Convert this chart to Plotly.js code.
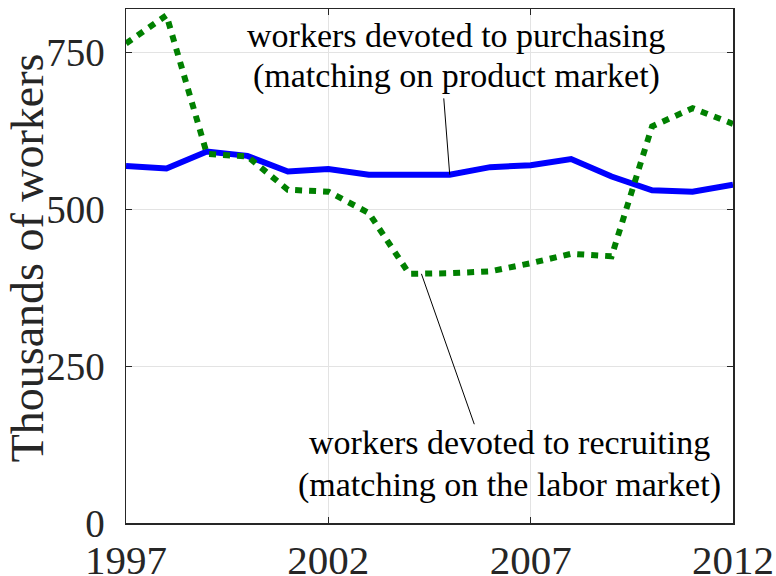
<!DOCTYPE html>
<html><head><meta charset="utf-8">
<script src="https://cdn.plot.ly/plotly-3.0.1.min.js"></script>
<style>html,body{margin:0;padding:0;background:#fff}#chart{width:776px;height:576px}</style>
</head><body><div id="chart"></div>
<script>
const years = [1997,1998,1999,2000,2001,2002,2003,2004,2005,2006,2007,2008,2009,2010,2011,2012];
const purchasing = [569,565,592,585,560,564,555,554,555,567,570,580,552,530,528,539];
const recruiting = [764,809,588,584,531,528,494,397,398,401,414,429,425,632,661,636];
const xTicks = [1997,2002,2007,2012];
const yTicks = [0,250,500,750];
const purchasingLabel = ["workers devoted to purchasing","(matching on product market)"];
const recruitingLabel = ["workers devoted to recruiting","(matching on the labor market)"];
const yTitle = "Thousands of workers";

const font = '"Liberation Serif", serif';
const traces = [
  {x: years, y: purchasing, mode: "lines", line: {color: "#0000ff", width: 6}, hoverinfo: "skip"},
  {x: years, y: recruiting, mode: "lines", line: {color: "#008000", width: 6, dash: "7px,7px"}, hoverinfo: "skip"}
];
const txt = (t, x, y) => ({text: t, x: x, y: y, xref: "x", yref: "y", showarrow: false,
  font: {family: font, size: 34, color: "#000"}, xanchor: "center", yanchor: "middle"});
const arr = (x, y, ax, ay) => ({text: "", x: x, y: y, ax: ax, ay: ay, xref: "x", yref: "y",
  axref: "x", ayref: "y", showarrow: true, arrowhead: 0, arrowwidth: 1, arrowcolor: "#000"});
const layout = {
  width: 776, height: 576,
  margin: {l: 126, r: 43, t: 9, b: 53},
  paper_bgcolor: "#fff", plot_bgcolor: "#fff",
  showlegend: false,
  font: {family: font, color: "#262626"},
  xaxis: {range: [1997, 2012], tickvals: xTicks, ticktext: xTicks.map(String),
    showgrid: true, gridcolor: "#e3e3e3", gridwidth: 1, zeroline: false,
    showline: true, linecolor: "#262626", linewidth: 1.5, mirror: "ticks",
    ticks: "inside", ticklen: 6, tickcolor: "#262626",
    tickfont: {family: font, size: 41, color: "#262626"}},
  yaxis: {range: [0, 819], tickvals: yTicks, ticktext: yTicks.map(String),
    showgrid: true, gridcolor: "#e3e3e3", gridwidth: 1, zeroline: false,
    showline: true, linecolor: "#262626", linewidth: 1.5, mirror: "ticks",
    ticks: "inside", ticklen: 6, tickcolor: "#262626",
    tickfont: {family: font, size: 39, color: "#262626"}, ticklabelstandoff: 12},
  annotations: [
    {text: yTitle, xref: "paper", yref: "paper", x: -0.163, y: 0.515, textangle: -90,
      showarrow: false, xanchor: "center", yanchor: "middle",
      font: {family: font, size: 46, color: "#262626"}},
    txt(purchasingLabel[0], 2005.16, 777), txt(purchasingLabel[1], 2005.16, 713),
    txt(recruitingLabel[0], 2006.48, 128), txt(recruitingLabel[1], 2006.48, 60),
    arr(2005.0, purchasing[8], 2004.85, 679),
    arr(2004.3, 397, 2005.62, 155)
  ]
};
Plotly.newPlot("chart", traces, layout, {staticPlot: true, displayModeBar: false});
</script></body></html>
